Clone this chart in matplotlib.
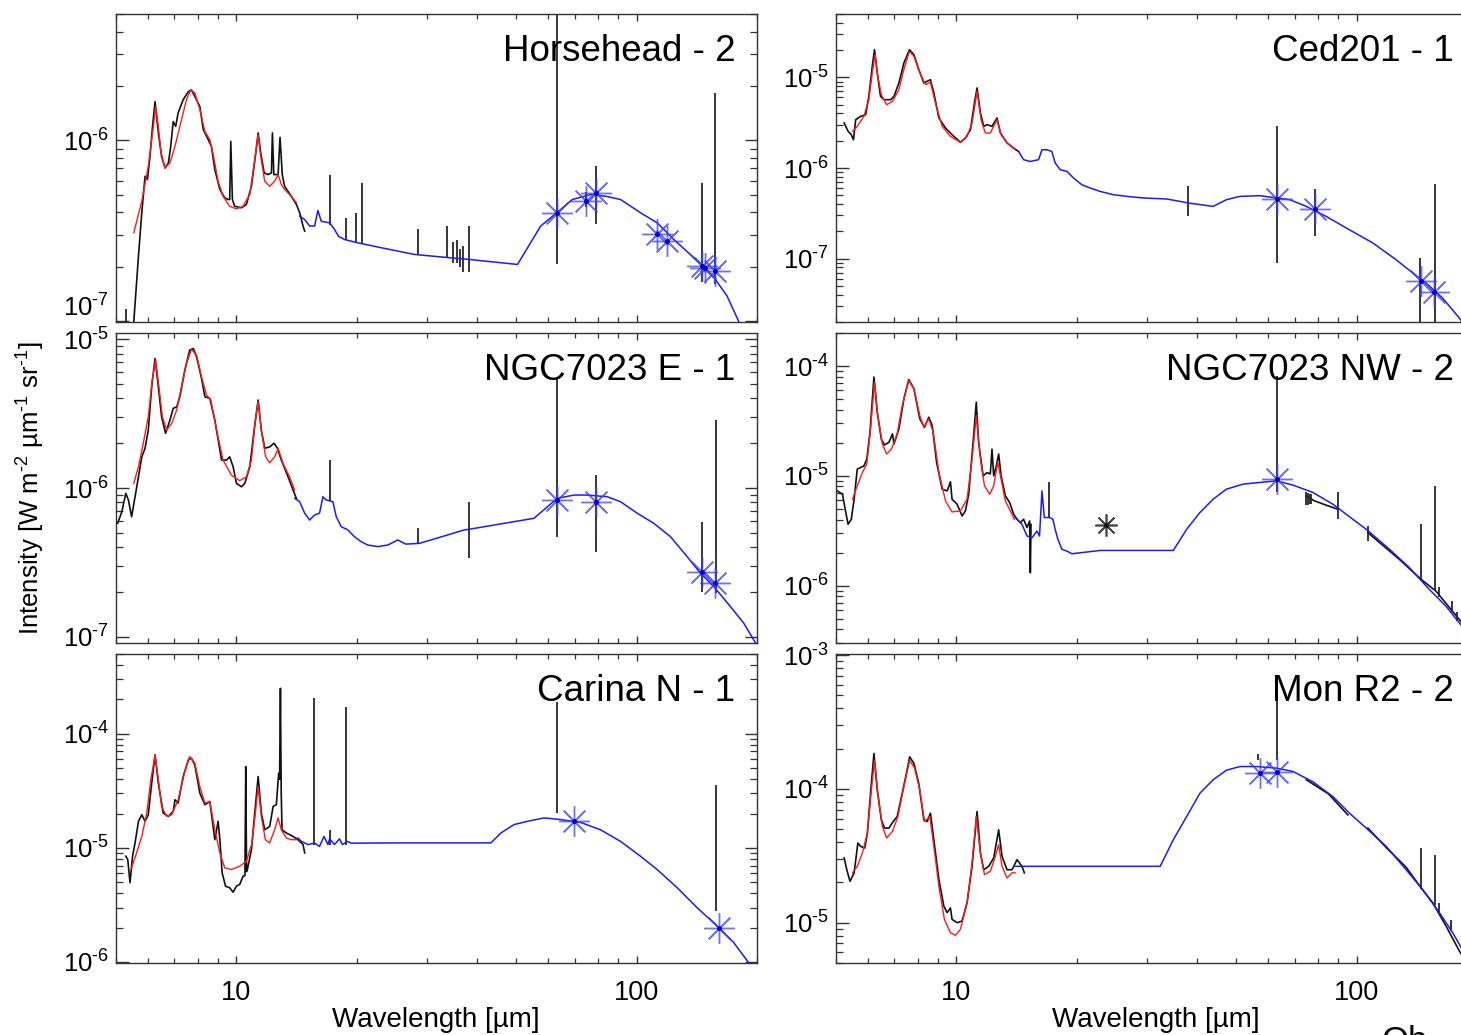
import numpy as np
import matplotlib
matplotlib.use("Agg")
import matplotlib.pyplot as plt
from matplotlib.ticker import LogLocator, NullFormatter, FixedLocator

plt.rcParams['font.family'] = ['Liberation Sans', 'DejaVu Sans']
plt.rcParams['mathtext.fontset'] = 'custom'
plt.rcParams['mathtext.rm'] = 'Liberation Sans'
plt.rcParams['mathtext.it'] = 'Liberation Sans:italic'
plt.rcParams['mathtext.bf'] = 'Liberation Sans:bold'
plt.rcParams['mathtext.default'] = 'regular'

# ---------------- Horsehead - 2 ----------------
hh_obs_wl = [5.50, 5.54, 5.69, 5.80, 5.91, 5.99, 6.08, 6.17, 6.26, 6.38, 6.50, 6.63, 6.76, 6.85, 6.95, 7.05, 7.15, 7.36,
             7.58, 7.72, 7.87, 8.10, 8.26, 8.50, 8.66, 8.83, 9.09, 9.35, 9.54, 9.62, 9.68, 9.77, 9.90, 10.29, 10.59, 10.90,
             11.15, 11.33, 11.50, 11.73, 11.99, 12.23, 12.30, 12.40, 12.71, 12.85, 13.02, 13.19, 13.71, 14.12, 14.39,
             14.67, 14.81]
hh_obs_i = [0.8e-7, 1.0e-7, 2.29e-7, 3.99e-7, 6.33e-7, 6.07e-7, 8.16e-7, 1.195e-6, 1.64e-6, 1.10e-6, 8.16e-7, 7.04e-7,
            7.50e-7, 9.27e-7, 1.27e-6, 1.195e-6, 1.42e-6, 1.68e-6, 1.86e-6, 1.90e-6, 1.75e-6, 1.54e-6, 1.15e-6, 1.01e-6,
            9.27e-7, 6.89e-7, 5.35e-7, 4.81e-7, 4.71e-7, 4.71e-7, 9.87e-7, 4.71e-7, 4.32e-7, 4.24e-7, 4.42e-7, 5.58e-7,
            8.16e-7, 1.10e-6, 8.52e-7, 6.61e-7, 6.47e-7, 6.61e-7, 1.10e-6, 6.47e-7, 6.47e-7, 1.04e-6, 6.47e-7, 5.58e-7,
            4.91e-7, 4.42e-7, 3.98e-7, 3.36e-7, 3.15e-7]
hh_fit_wl = [5.54, 5.80, 6.02, 6.20, 6.28, 6.38, 6.48, 6.63, 6.82, 7.02, 7.29, 7.50, 7.69, 7.87, 8.10, 8.34, 8.58, 8.75,
             9.00, 9.26, 9.62, 10.0, 10.39, 10.80, 11.11, 11.33, 11.50, 11.77, 12.11, 12.46, 12.71, 12.95, 13.19, 13.71,
             14.12]
hh_fit_i = [3.09e-7, 4.61e-7, 7.19e-7, 1.195e-6, 1.54e-6, 1.195e-6, 8.52e-7, 7.04e-7, 7.50e-7, 9.27e-7, 1.30e-6, 1.68e-6,
            1.90e-6, 1.83e-6, 1.48e-6, 1.12e-6, 1.01e-6, 8.34e-7, 5.94e-7, 4.91e-7, 4.32e-7, 4.18e-7, 4.32e-7, 5.02e-7,
            7.83e-7, 1.075e-6, 8.16e-7, 5.94e-7, 5.58e-7, 5.94e-7, 6.47e-7, 5.70e-7, 5.35e-7, 4.91e-7, 4.52e-7]
hh_mod_wl = [14.39, 14.81, 15.24, 15.68, 15.98, 16.29, 17.09, 17.58, 17.99, 18.63, 20.0, 22.99, 27.84, 33.72, 37.83, 50.4,
             57.6, 63.2, 69.1, 76.8, 83.7, 91.2, 102.3, 112.6, 123.9, 137.7, 147.2, 157.4, 168.3, 179.9, 190.0]
hh_mod_i = [3.81e-7, 3.65e-7, 3.36e-7, 3.36e-7, 4.1e-7, 3.57e-7, 3.50e-7, 3.22e-7, 2.95e-7, 2.83e-7, 2.72e-7, 2.55e-7,
            2.34e-7, 2.25e-7, 2.20e-7, 2.06e-7, 3.36e-7, 3.98e-7, 4.71e-7, 5.02e-7, 4.91e-7, 4.71e-7, 3.98e-7, 3.50e-7,
            2.83e-7, 2.29e-7, 2.02e-7, 1.70e-7, 1.38e-7, 1.0e-7, 0.8e-7]
hh_bar_wl = [5.29, 17.1, 18.8, 19.92, 20.62, 28.39, 33.53, 34.7, 35.6, 36.2, 36.9, 38.18, 63.2, 74.6, 79.1, 145.8, 157.4]
hh_bar_lo = [0.95e-7, 3.4e-7, 2.8e-7, 2.7e-7, 2.7e-7, 2.33e-7, 2.25e-7, 2.1e-7, 2.1e-7, 2.0e-7, 1.86e-7, 1.86e-7,
             2.06e-7, 4.3e-7, 3.43e-7, 1.64e-7, 1.60e-7]
hh_bar_hi = [1.165e-7, 6.47e-7, 3.73e-7, 3.98e-7, 5.84e-7, 3.22e-7, 3.36e-7, 2.75e-7, 2.8e-7, 2.5e-7, 2.6e-7, 3.36e-7,
             6e-6, 5.2e-7, 7.2e-7, 5.84e-7, 1.83e-6]
hh_star_wl = [63.2, 74.6, 79.1, 112.6, 119.3, 145.8, 148.6, 157.4]
hh_star_i = [3.98e-7, 4.61e-7, 5.13e-7, 3.02e-7, 2.77e-7, 2.02e-7, 1.98e-7, 1.89e-7]

# ---------------- NGC7023 E - 1 ----------------
ne_obs_wl = [5.05, 5.17, 5.29, 5.37, 5.47, 5.58, 5.69, 5.80, 5.91, 6.02, 6.14, 6.26, 6.38, 6.50, 6.65, 6.82, 6.95, 7.09,
             7.22, 7.43, 7.64, 7.80, 7.95, 8.18, 8.34, 8.58, 8.83, 9.18, 9.44, 9.62, 9.81, 10.0, 10.29, 10.49, 10.80,
             11.07, 11.33, 11.54, 11.77, 12.11, 12.42, 12.66, 12.95, 13.46, 13.85, 14.12]
ne_obs_i = [5.80e-7, 6.93e-7, 9.21e-7, 8.31e-7, 6.42e-7, 8.74e-7, 1.19e-6, 1.62e-6, 1.85e-6, 2.45e-6, 4.79e-6, 7.42e-6,
            4.79e-6, 3.01e-6, 2.33e-6, 2.86e-6, 3.43e-6, 3.51e-6, 4.10e-6, 6.19e-6, 8.44e-6, 8.66e-6, 7.61e-6, 5.45e-6,
            4.10e-6, 4.00e-6, 2.86e-6, 1.54e-6, 1.54e-6, 1.62e-6, 1.39e-6, 1.075e-6, 1.02e-6, 1.075e-6, 1.39e-6, 2.45e-6,
            3.90e-6, 2.45e-6, 1.85e-6, 1.89e-6, 2.0e-6, 1.85e-6, 1.54e-6, 1.19e-6, 9.70e-7, 8.53e-7]
ne_fit_wl = [5.54, 5.69, 5.85, 6.02, 6.16, 6.28, 6.40, 6.53, 6.69, 6.89, 7.09, 7.29, 7.50, 7.72, 7.95, 8.18, 8.42, 8.63,
             8.92, 9.26, 9.72, 10.19, 10.59, 10.90, 11.15, 11.33, 11.54, 11.83, 12.11, 12.46, 12.71, 13.08, 13.58, 13.98]
ne_fit_i = [1.075e-6, 1.39e-6, 2.0e-6, 3.01e-6, 5.31e-6, 7.23e-6, 4.79e-6, 3.01e-6, 2.45e-6, 2.72e-6, 3.34e-6, 4.79e-6,
            6.87e-6, 8.53e-6, 7.81e-6, 5.58e-6, 4.21e-6, 3.90e-6, 2.45e-6, 1.54e-6, 1.22e-6, 1.12e-6, 1.19e-6, 1.54e-6,
            2.86e-6, 3.80e-6, 2.45e-6, 1.62e-6, 1.48e-6, 1.62e-6, 1.85e-6, 1.46e-6, 1.19e-6, 9.70e-7]
ne_mod_wl = [13.98, 14.39, 14.81, 15.24, 15.68, 16.13, 16.45, 16.76, 17.42, 17.76, 18.28, 18.99, 19.72, 20.50, 21.30,
             22.56, 23.89, 25.30, 26.5, 28.66, 30.64, 33.72, 37.10, 38.40, 55.4, 59.9, 63.4, 69.8, 75.3, 84.5, 91.2,
             100.4, 110.4, 121.6, 133.8, 144.4, 155.9, 171.6, 185.2, 198.1, 205.0]
ne_mod_i = [8.53e-7, 8.09e-7, 6.77e-7, 6.10e-7, 6.59e-7, 6.77e-7, 8.74e-7, 8.31e-7, 8.09e-7, 6.42e-7, 5.50e-7, 5.23e-7,
            4.71e-7, 4.36e-7, 4.14e-7, 4.04e-7, 4.14e-7, 4.48e-7, 4.2e-7, 4.25e-7, 4.48e-7, 4.84e-7, 5.23e-7, 5.3e-7,
            6.26e-7, 7.49e-7, 8.53e-7, 8.97e-7, 8.97e-7, 8.74e-7, 8.09e-7, 6.77e-7, 5.80e-7, 4.71e-7, 3.46e-7, 2.68e-7,
            2.18e-7, 1.60e-7, 1.24e-7, 9.16e-8, 8.0e-8]
ne_bar_wl = [17.09, 28.39, 38.18, 63.4, 79.1, 145.8, 158.0]
ne_bar_lo = [8.2e-7, 4.25e-7, 3.37e-7, 4.71e-7, 3.74e-7, 2.01e-7, 1.96e-7]
ne_bar_hi = [1.54e-6, 5.37e-7, 8.09e-7, 5.58e-6, 1.22e-6, 5.94e-7, 2.86e-6]
ne_star_wl = [63.4, 79.1, 145.8, 157.4]
ne_star_i = [8.31e-7, 8.09e-7, 2.74e-7, 2.29e-7]

# ---------------- Carina N - 1 ----------------
cn_obs_wl = [5.29, 5.35, 5.42, 5.50, 5.58, 5.69, 5.80, 5.91, 6.02, 6.14, 6.26, 6.38, 6.56, 6.76, 6.95, 7.02, 7.15, 7.36,
             7.58, 7.72, 7.87, 8.10, 8.34, 8.58, 8.83, 9.00, 9.09, 9.21, 9.39, 9.62, 9.81, 10.0, 10.19, 10.39, 10.50,
             10.55, 10.60, 10.65, 10.90, 11.11, 11.33, 11.54, 11.77, 12.11, 12.35, 12.58, 12.75, 12.82, 12.88, 12.94,
             13.00, 13.33, 13.85, 14.25, 14.67, 14.81]
cn_obs_i = [8.45e-6, 7.90e-6, 4.95e-6, 8.45e-6, 1.106e-5, 1.71e-5, 1.95e-5, 1.71e-5, 1.95e-5, 3.70e-5, 6.53e-5, 3.70e-5,
            2.02e-5, 1.89e-5, 2.09e-5, 2.64e-5, 2.47e-5, 4.22e-5, 5.90e-5, 6.11e-5, 5.34e-5, 3.02e-5, 2.39e-5, 2.55e-5,
            1.18e-5, 1.71e-5, 1.18e-5, 6.05e-6, 4.62e-6, 4.47e-6, 4.09e-6, 4.62e-6, 4.78e-6, 5.65e-6, 5.7e-6, 5.16e-5,
            6.2e-6, 6.46e-6, 9.66e-6, 2.02e-5, 4.22e-5, 2.02e-5, 1.44e-5, 1.54e-5, 2.31e-5, 2.39e-5, 4.5e-5, 4.0e-5,
            2.50e-4, 3.0e-5, 1.44e-5, 1.35e-5, 1.26e-5, 1.18e-5, 1.07e-5, 9.04e-6]
cn_fit_wl = [5.47, 5.63, 5.80, 5.97, 6.11, 6.26, 6.38, 6.50, 6.69, 6.89, 7.15, 7.43, 7.64, 7.87, 8.10, 8.34, 8.58, 8.83,
             9.09, 9.35, 9.72, 10.19, 10.59, 10.94, 11.15, 11.33, 11.54, 11.81, 12.11, 12.46, 12.71, 12.95, 13.33, 13.71,
             14.12]
cn_fit_i = [6.69e-6, 9.04e-6, 1.26e-5, 2.02e-5, 3.95e-5, 6.53e-5, 3.95e-5, 2.31e-5, 1.89e-5, 1.95e-5, 2.64e-5, 4.67e-5,
            6.31e-5, 5.53e-5, 3.45e-5, 2.47e-5, 2.55e-5, 1.44e-5, 9.04e-6, 6.69e-6, 6.46e-6, 6.91e-6, 7.64e-6, 1.106e-5,
            2.02e-5, 3.45e-5, 1.89e-5, 1.18e-5, 1.106e-5, 1.44e-5, 1.83e-5, 1.44e-5, 1.22e-5, 1.18e-5, 1.18e-5]
cn_mod_wl = [14.25, 14.53, 15.09, 15.68, 16.13, 16.55, 16.93, 17.09, 17.58, 18.10, 18.40, 18.95, 19.36, 25.79, 43.25,
             45.8, 49.4, 53.4, 58.7, 64.6, 72.5, 81.3, 91.2, 102.3, 112.6, 126.4, 141.7, 158.9, 174.9, 190.5, 200.0]
cn_mod_i = [1.22e-5, 1.14e-5, 1.07e-5, 1.10e-5, 1.03e-5, 1.26e-5, 1.07e-5, 1.2e-5, 1.07e-5, 1.20e-5, 1.07e-5, 1.14e-5,
            1.10e-5, 1.106e-5, 1.106e-5, 1.35e-5, 1.60e-5, 1.71e-5, 1.83e-5, 1.77e-5, 1.67e-5, 1.44e-5, 1.14e-5, 8.45e-6,
            6.46e-6, 4.47e-6, 2.99e-6, 2.07e-6, 1.48e-6, 9.9e-7, 8.0e-7]
cn_bar_wl = [15.59, 17.09, 18.81, 63.4, 158.0]
cn_bar_lo = [1.07e-5, 1.07e-5, 1.07e-5, 2.02e-5, 2.79e-6]
cn_bar_hi = [2.04e-4, 1.44e-5, 1.72e-4, 1.91e-4, 3.57e-5]
cn_star_wl = [69.8, 160.4]
cn_star_i = [1.71e-5, 2.00e-6]

# ---------------- Ced201 - 1 ----------------
cd_obs_wl = [5.24, 5.36, 5.46, 5.53, 5.60, 5.76, 5.93, 6.04, 6.16, 6.24, 6.34, 6.46, 6.59, 6.85, 6.98, 7.18, 7.39, 7.63,
             7.83, 8.05, 8.29, 8.61, 8.78, 9.04, 9.39, 9.75, 10.23, 10.53, 10.84, 11.09, 11.26, 11.48, 11.70, 11.93,
             12.27, 12.63, 12.88, 13.38, 13.90, 14.30]
cd_obs_i = [3.14e-6, 2.54e-6, 2.33e-6, 2.05e-6, 3.41e-6, 3.71e-6, 3.88e-6, 6.17e-6, 1.32e-5, 2.02e-5, 1.12e-5, 6.17e-6,
            5.67e-6, 5.67e-6, 6.17e-6, 8.67e-6, 1.44e-5, 2.02e-5, 1.78e-5, 1.22e-5, 8.67e-6, 9.43e-6, 6.73e-6, 3.56e-6,
            2.76e-6, 2.33e-6, 1.92e-6, 2.14e-6, 2.65e-6, 5.22e-6, 7.64e-6, 4.05e-6, 2.88e-6, 3.01e-6, 2.88e-6, 3.56e-6,
            2.43e-6, 1.89e-6, 1.66e-6, 1.52e-6]
cd_fit_wl = [5.50, 5.65, 5.87, 6.04, 6.16, 6.26, 6.36, 6.49, 6.69, 6.92, 7.18, 7.39, 7.63, 7.83, 8.10, 8.37, 8.61, 8.86,
             9.21, 9.66, 10.23, 10.63, 10.94, 11.26, 11.52, 11.81, 12.15, 12.63, 12.93, 13.38, 14.03]
cd_fit_i = [2.54e-6, 2.88e-6, 3.71e-6, 5.67e-6, 1.12e-5, 1.78e-5, 1.03e-5, 6.44e-6, 4.99e-6, 5.43e-6, 7.31e-6, 1.22e-5,
            1.94e-5, 1.71e-5, 1.12e-5, 8.31e-6, 8.81e-6, 5.22e-6, 2.88e-6, 2.23e-6, 1.92e-6, 2.23e-6, 3.14e-6, 7.01e-6,
            3.41e-6, 2.43e-6, 2.43e-6, 3.41e-6, 2.33e-6, 1.89e-6, 1.59e-6]
cd_mod_wl = [14.30, 14.72, 15.30, 16.04, 16.36, 16.83, 17.32, 17.65, 18.17, 18.89, 19.61, 20.58, 21.59, 22.86, 24.68,
             26.66, 29.32, 33.53, 36.20, 37.96, 43.8, 47.3, 51.1, 57.3, 63.1, 68.1, 74.9, 84.0, 96.0, 109.8, 125.6,
             138.2, 149.2, 164.1, 180.7, 192.0]
cd_mod_i = [1.52e-6, 1.235e-6, 1.18e-6, 1.235e-6, 1.59e-6, 1.59e-6, 1.52e-6, 1.136e-6, 9.58e-7, 9.17e-7, 7.76e-7,
            6.54e-7, 6.01e-7, 5.52e-7, 5.07e-7, 4.86e-7, 4.67e-7, 4.55e-7, 4.28e-7, 4.11e-7, 3.77e-7, 4.47e-7, 4.86e-7,
            4.95e-7, 4.67e-7, 4.47e-7, 3.77e-7, 2.92e-7, 2.08e-7, 1.49e-7, 9.72e-8, 6.94e-8, 5.38e-8, 3.67e-8, 2.21e-8,
            1.5e-8]
cd_bar_wl = [37.96, 63.1, 78.9, 144.4, 157.1]
cd_bar_lo = [2.92e-7, 8.94e-8, 1.76e-7, 1.9e-8, 1.9e-8]
cd_bar_hi = [6.26e-7, 2.93e-6, 5.86e-7, 1.02e-7, 6.66e-7]
cd_star_wl = [63.1, 78.9, 145.0, 156.5]
cd_star_i = [4.55e-7, 3.53e-7, 5.60e-8, 4.24e-8]

# ---------------- NGC7023 NW - 2 ----------------
nw_obs_wl = [5.04, 5.19, 5.29, 5.36, 5.46, 5.55, 5.65, 5.76, 5.87, 5.97, 6.08, 6.22, 6.34, 6.49, 6.61, 6.78, 6.92, 6.98,
             7.18, 7.39, 7.60, 7.83, 8.10, 8.32, 8.53, 8.70, 8.92, 9.21, 9.48, 9.66, 9.75, 10.04, 10.33, 10.53, 10.73,
             11.04, 11.21, 11.36, 11.66, 11.93, 12.15, 12.27, 12.39, 12.58, 12.75, 12.93, 13.25, 13.58, 13.90, 14.17,
             14.44, 14.72, 15.01, 15.24, 15.30, 15.36]
nw_obs_i = [7.29e-6, 6.80e-6, 4.63e-6, 3.62e-6, 4.02e-6, 6.12e-6, 1.15e-5, 1.19e-5, 1.23e-5, 1.42e-5, 2.49e-5, 7.94e-5,
            3.80e-5, 2.16e-5, 1.91e-5, 2.02e-5, 2.41e-5, 1.95e-5, 2.67e-5, 5.02e-5, 7.54e-5, 6.20e-5, 3.30e-5, 2.77e-5,
            3.42e-5, 2.86e-5, 1.33e-5, 7.56e-6, 7.29e-6, 8.81e-6, 6.12e-6, 5.51e-6, 4.31e-6, 4.79e-6, 6.80e-6, 2.32e-5,
            4.69e-5, 2.02e-5, 1.0e-5, 1.07e-5, 1.04e-5, 1.75e-5, 1.0e-5, 1.23e-5, 1.58e-5, 1.0e-5, 6.56e-6, 5.71e-6,
            4.47e-6, 4.02e-6, 3.75e-6, 4.02e-6, 3.38e-6, 3.88e-6, 1.31e-6, 3.6e-6]
nw_fit_wl = [5.50, 5.65, 5.82, 5.97, 6.10, 6.24, 6.36, 6.53, 6.69, 6.88, 7.11, 7.32, 7.60, 7.83, 8.10, 8.29, 8.53, 8.75,
             9.04, 9.39, 9.75, 10.23, 10.63, 10.94, 11.21, 11.48, 11.75, 12.11, 12.39, 12.68, 12.93, 13.25, 13.64, 13.95]
nw_fit_i = [6.12e-6, 8.10e-6, 1.07e-5, 1.28e-5, 2.67e-5, 7.14e-5, 3.53e-5, 1.95e-5, 1.58e-5, 1.75e-5, 2.41e-5, 4.36e-5,
            7.38e-5, 6.20e-5, 3.53e-5, 2.77e-5, 3.30e-5, 2.49e-5, 1.07e-5, 5.91e-6, 4.69e-6, 4.79e-6, 6.12e-6, 1.42e-5,
            3.53e-5, 1.42e-5, 8.10e-6, 6.80e-6, 8.10e-6, 1.33e-5, 9.33e-6, 5.91e-6, 4.79e-6, 4.02e-6]
nw_mod_wl = [14.03, 14.58, 15.01, 15.45, 15.89, 16.13, 16.36, 16.58, 17.09, 17.42, 17.65, 17.93, 18.35, 18.89, 19.44,
             22.86, 34.83, 37.62, 40.6, 43.8, 47.3, 52.1, 57.3, 63.1, 69.4, 77.8, 87.3, 97.9, 105.7, 120.9, 135.6,
             152.1, 167.4, 180.7, 192.0]
nw_mod_i = [4.17e-6, 3.62e-6, 2.83e-6, 2.73e-6, 3.14e-6, 2.83e-6, 7.29e-6, 4.17e-6, 4.17e-6, 4.02e-6, 3.26e-6, 2.64e-6,
            2.14e-6, 2.06e-6, 1.95e-6, 2.09e-6, 2.09e-6, 3.26e-6, 4.63e-6, 6.12e-6, 7.56e-6, 8.40e-6, 8.70e-6, 9.00e-6,
            8.22e-6, 7.05e-6, 5.51e-6, 4.02e-6, 3.26e-6, 2.14e-6, 1.455e-6, 9.21e-7, 6.48e-7, 4.57e-7, 3.5e-7]
nw_far_a_wl = [74.9, 78.6, 84.0, 89.8]
nw_far_a_i = [6.5e-6, 5.91e-6, 5.4e-6, 4.96e-6]
nw_far_b_wl = [106.7, 128.0, 145.0, 158.0, 180.7, 192.0]
nw_far_b_i = [3.04e-6, 1.73e-6, 1.14e-6, 8.89e-7, 4.90e-7, 3.7e-7]
nw_bar_wl = [16.99, 63.1, 74.9, 75.6, 76.3, 77.0, 89.8, 106.7, 145.0, 157.1, 160.6, 172.8, 178.2]
nw_bar_lo = [4.17e-6, 7.05e-6, 5.4e-6, 5.4e-6, 5.5e-6, 5.5e-6, 4.02e-6, 2.55e-6, 1.14e-6, 8.9e-7, 7.9e-7, 5.7e-7, 4.8e-7]
nw_bar_hi = [8.70e-6, 8.20e-5, 7.1e-6, 7.0e-6, 6.9e-6, 6.8e-6, 7.05e-6, 3.49e-6, 3.62e-6, 8.10e-6, 9.8e-7, 7.2e-7, 5.8e-7]
nw_star_wl = [63.1]
nw_star_i = [9.33e-6]
nw_gray_wl = [23.62]
nw_gray_i = [3.56e-6]

# ---------------- Mon R2 - 2 ----------------
mr_obs_wl = [5.24, 5.32, 5.42, 5.55, 5.67, 5.76, 5.90, 5.99, 6.10, 6.22, 6.34, 6.49, 6.61, 6.78, 6.95, 7.11, 7.32, 7.50,
             7.64, 7.83, 8.05, 8.29, 8.45, 8.61, 8.78, 9.04, 9.30, 9.48, 9.66, 9.75, 10.04, 10.33, 10.63, 10.94, 11.26,
             11.48, 11.70, 12.04, 12.39, 12.75, 13.00, 13.38, 13.77, 14.17, 14.58, 14.78]
mr_obs_i = [3.05e-5, 2.49e-5, 2.04e-5, 2.36e-5, 3.94e-5, 3.72e-5, 3.62e-5, 4.68e-5, 9.29e-5, 1.84e-4, 9.83e-5, 5.88e-5,
            5.10e-5, 5.10e-5, 5.71e-5, 6.22e-5, 9.29e-5, 1.31e-4, 1.74e-4, 1.55e-4, 1.10e-4, 5.88e-5, 5.71e-5, 6.59e-5,
            4.17e-5, 2.10e-5, 1.33e-5, 1.19e-5, 1.29e-5, 1.06e-5, 1.00e-5, 1.03e-5, 1.41e-5, 2.64e-5, 6.78e-5, 3.32e-5,
            2.49e-5, 2.64e-5, 3.05e-5, 4.95e-5, 3.13e-5, 2.49e-5, 2.49e-5, 2.96e-5, 2.64e-5, 2.36e-5]
mr_fit_wl = [5.50, 5.65, 5.82, 5.99, 6.13, 6.24, 6.36, 6.53, 6.69, 6.92, 7.14, 7.36, 7.64, 7.86, 8.10, 8.32, 8.58, 8.78,
             9.04, 9.33, 9.66, 9.94, 10.23, 10.63, 10.94, 11.21, 11.48, 11.75, 12.15, 12.51, 12.75, 13.00, 13.38, 13.77,
             14.03]
mr_fit_i = [2.36e-5, 2.64e-5, 3.32e-5, 4.68e-5, 9.83e-5, 1.64e-4, 9.29e-5, 5.24e-5, 4.30e-5, 4.81e-5, 6.22e-5, 9.83e-5,
            1.64e-4, 1.43e-4, 9.83e-5, 5.71e-5, 6.22e-5, 3.72e-5, 1.87e-5, 1.06e-5, 8.42e-6, 8.04e-6, 8.92e-6, 1.41e-5,
            2.80e-5, 6.22e-5, 3.32e-5, 2.29e-5, 2.42e-5, 3.13e-5, 3.83e-5, 2.64e-5, 2.16e-5, 2.36e-5, 2.36e-5]
mr_mod_wl = [14.03, 32.3, 34.83, 37.62, 40.6, 43.8, 47.3, 51.1, 56.2, 63.1, 69.4, 77.8, 87.3, 96.0, 105.7, 118.6, 133.0,
             146.3, 161.1, 173.9, 181.7, 195.0]
mr_mod_i = [2.64e-5, 2.64e-5, 4.17e-5, 6.22e-5, 9.29e-5, 1.17e-4, 1.38e-4, 1.47e-4, 1.47e-4, 1.43e-4, 1.35e-4, 1.13e-4,
            8.76e-5, 6.59e-5, 5.10e-5, 3.72e-5, 2.49e-5, 1.77e-5, 1.19e-5, 8.42e-6, 6.69e-6, 4.6e-6]
mr_far_a_wl = [74.9, 85.0, 95.1]
mr_far_a_i = [1.17e-4, 9.2e-5, 6.40e-5]
mr_far_b_wl = [106.7, 118.6, 133.0, 145.0, 155.0, 167.4, 180.7, 190.0]
mr_far_b_i = [5.10e-5, 3.65e-5, 2.6e-5, 1.82e-5, 1.41e-5, 9.43e-6, 6.14e-6, 4.9e-6]
mr_bar_wl = [56.7, 63.1, 145.0, 157.4, 161.0, 172.0]
mr_bar_lo = [1.64e-4, 1.64e-4, 1.8e-5, 1.35e-5, 1.2e-5, 8.6e-6]
mr_bar_hi = [1.84e-4, 4.74e-4, 3.6e-5, 3.23e-5, 1.4e-5, 1.05e-5]
mr_star_wl = [57.3, 63.1]
mr_star_i = [1.31e-4, 1.35e-4]

W, H = 1461, 1035
fig = plt.figure(figsize=(W / 100, H / 100), dpi=100)

# panel layout in pixels: (left, top, height), shared width
AW = 641
panels = [
    dict(box=(116, 14, 308), title='Horsehead - 2', ylim=(0.99e-7, 5e-6), bottom=False,
         obs=(hh_obs_wl, hh_obs_i), fit=(hh_fit_wl, hh_fit_i), mod=(hh_mod_wl, hh_mod_i),
         bar=(hh_bar_wl, hh_bar_lo, hh_bar_hi), star=(hh_star_wl, hh_star_i), far=[]),
    dict(box=(116, 333, 310), title='NGC7023 E - 1', ylim=(9.1e-8, 1.1e-5), bottom=False,
         obs=(ne_obs_wl, ne_obs_i), fit=(ne_fit_wl, ne_fit_i), mod=(ne_mod_wl, ne_mod_i),
         bar=(ne_bar_wl, ne_bar_lo, ne_bar_hi), star=(ne_star_wl, ne_star_i), far=[]),
    dict(box=(116, 654, 309), title='Carina N - 1', ylim=(0.98e-6, 5e-4), bottom=True,
         obs=(cn_obs_wl, cn_obs_i), fit=(cn_fit_wl, cn_fit_i), mod=(cn_mod_wl, cn_mod_i),
         bar=(cn_bar_wl, cn_bar_lo, cn_bar_hi), star=(cn_star_wl, cn_star_i), far=[]),
    dict(box=(836, 14, 308), title='Ced201 - 1', ylim=(2e-8, 5e-5), bottom=False,
         obs=(cd_obs_wl, cd_obs_i), fit=(cd_fit_wl, cd_fit_i), mod=(cd_mod_wl, cd_mod_i),
         bar=(cd_bar_wl, cd_bar_lo, cd_bar_hi), star=(cd_star_wl, cd_star_i), far=[]),
    dict(box=(836, 333, 310), title='NGC7023 NW - 2', ylim=(3e-7, 2e-4), bottom=False,
         obs=(nw_obs_wl, nw_obs_i), fit=(nw_fit_wl, nw_fit_i), mod=(nw_mod_wl, nw_mod_i),
         bar=(nw_bar_wl, nw_bar_lo, nw_bar_hi), star=(nw_star_wl, nw_star_i),
         far=[(nw_far_a_wl, nw_far_a_i), (nw_far_b_wl, nw_far_b_i)]),
    dict(box=(836, 654, 309), title='Mon R2 - 2', ylim=(5e-6, 1.02e-3), bottom=True,
         obs=(mr_obs_wl, mr_obs_i), fit=(mr_fit_wl, mr_fit_i), mod=(mr_mod_wl, mr_mod_i),
         bar=(mr_bar_wl, mr_bar_lo, mr_bar_hi), star=(mr_star_wl, mr_star_i),
         far=[(mr_far_a_wl, mr_far_a_i), (mr_far_b_wl, mr_far_b_i)]),
]

axes = []
for n, p in enumerate(panels):
    x0, y0, h = p['box']
    ax = fig.add_axes([x0 / W, 1 - (y0 + h) / H, AW / W, h / H])
    axes.append(ax)
    ax.set_xscale('log')
    ax.set_yscale('log')

    ax.plot(p['obs'][0], p['obs'][1], color='#111111', lw=1.2, zorder=2)
    for fw, fi in p['far']:
        ax.plot(fw, fi, color='#111111', lw=1.2, zorder=2)
    ax.vlines(p['bar'][0], p['bar'][1], p['bar'][2], color='#262626', lw=1.3, zorder=2)
    ax.plot(p['fit'][0], p['fit'][1], color='#ff1a1a', lw=1.0, zorder=3)
    ax.plot(p['mod'][0], p['mod'][1], color='#1a1aff', lw=1.1, zorder=3)
    ax.plot(p['star'][0], p['star'][1], ls='none', marker=(8, 2, 0), ms=22, mew=1.0,
            color='#3f3fff', alpha=0.75, zorder=4)
    ax.plot(p['star'][0], p['star'][1], ls='none', marker='o', ms=2.5, color='#0000c0', zorder=5)

    ax.set_xlim(5, 200)
    lo, hi = p['ylim']
    ax.set_ylim(lo, hi)

    ax.xaxis.set_major_locator(FixedLocator([10, 100]))
    ax.xaxis.set_minor_locator(LogLocator(base=10, subs=np.arange(2, 10), numticks=20))
    ax.xaxis.set_minor_formatter(NullFormatter())
    if p['bottom']:
        ax.set_xticklabels(['10', '100'])
    else:
        ax.set_xticklabels([])

    decades = list(range(int(np.ceil(np.log10(lo))), int(np.floor(np.log10(hi))) + 1))
    ax.set_yticks([10.0 ** k for k in decades],
                  labels=['$10^{\\text{-%d}}$' % (-k) for k in decades])
    ax.yaxis.set_minor_locator(LogLocator(base=10, subs=np.arange(2, 10), numticks=40))
    ax.yaxis.set_minor_formatter(NullFormatter())

    ax.tick_params(which='both', direction='in', top=True, right=True, colors='#333333',
                   labelcolor='black')
    ax.tick_params(axis='y', which='major', length=9, width=1.0, labelsize=18.5, pad=5)
    ax.tick_params(axis='y', which='minor', length=5, width=0.9)
    ax.tick_params(axis='x', which='major', length=5, width=1.0, labelsize=19.5, pad=12)
    ax.tick_params(axis='x', which='minor', length=3.5, width=0.9)
    for s in ax.spines.values():
        s.set_color('#333333')
        s.set_linewidth(1.0)

    tx = 0.966 if x0 < 500 else 0.964
    ax.text(tx, 0.878, p['title'], transform=ax.transAxes, ha='right', va='center',
            fontsize=26.5, color='black', zorder=6)

# lowest label of the top-left panel sits just above its tick, as in the figure
axes[0].get_yticklabels()[0].set_va('bottom')

# the far-infrared point flagged in NGC7023 NW
axes[4].plot(nw_gray_wl, nw_gray_i, ls='none', marker=(8, 2, 0), ms=16, mew=1.2,
             color='#444444', zorder=4)
axes[4].plot(nw_gray_wl, nw_gray_i, ls='none', marker='o', ms=2.5, color='#111111', zorder=5)

fig.text(31 / W, 1 - 488 / H, 'Intensity [W m$^{\\text{-2}}$ \u00b5m$^{\\text{-1}}$ sr$^{\\text{-1}}$]',
         rotation=90, ha='center', va='center', fontsize=18.5)
fig.text(436 / W, 1 - 1020 / H, 'Wavelength [\u00b5m]', ha='center', va='center', fontsize=20)
fig.text(1156 / W, 1 - 1020 / H, 'Wavelength [\u00b5m]', ha='center', va='center', fontsize=20)
fig.text(1381 / W, 1 - 1025 / H, 'Ob', ha='left', va='top', fontsize=25)

fig.savefig('out.png', dpi=100)
